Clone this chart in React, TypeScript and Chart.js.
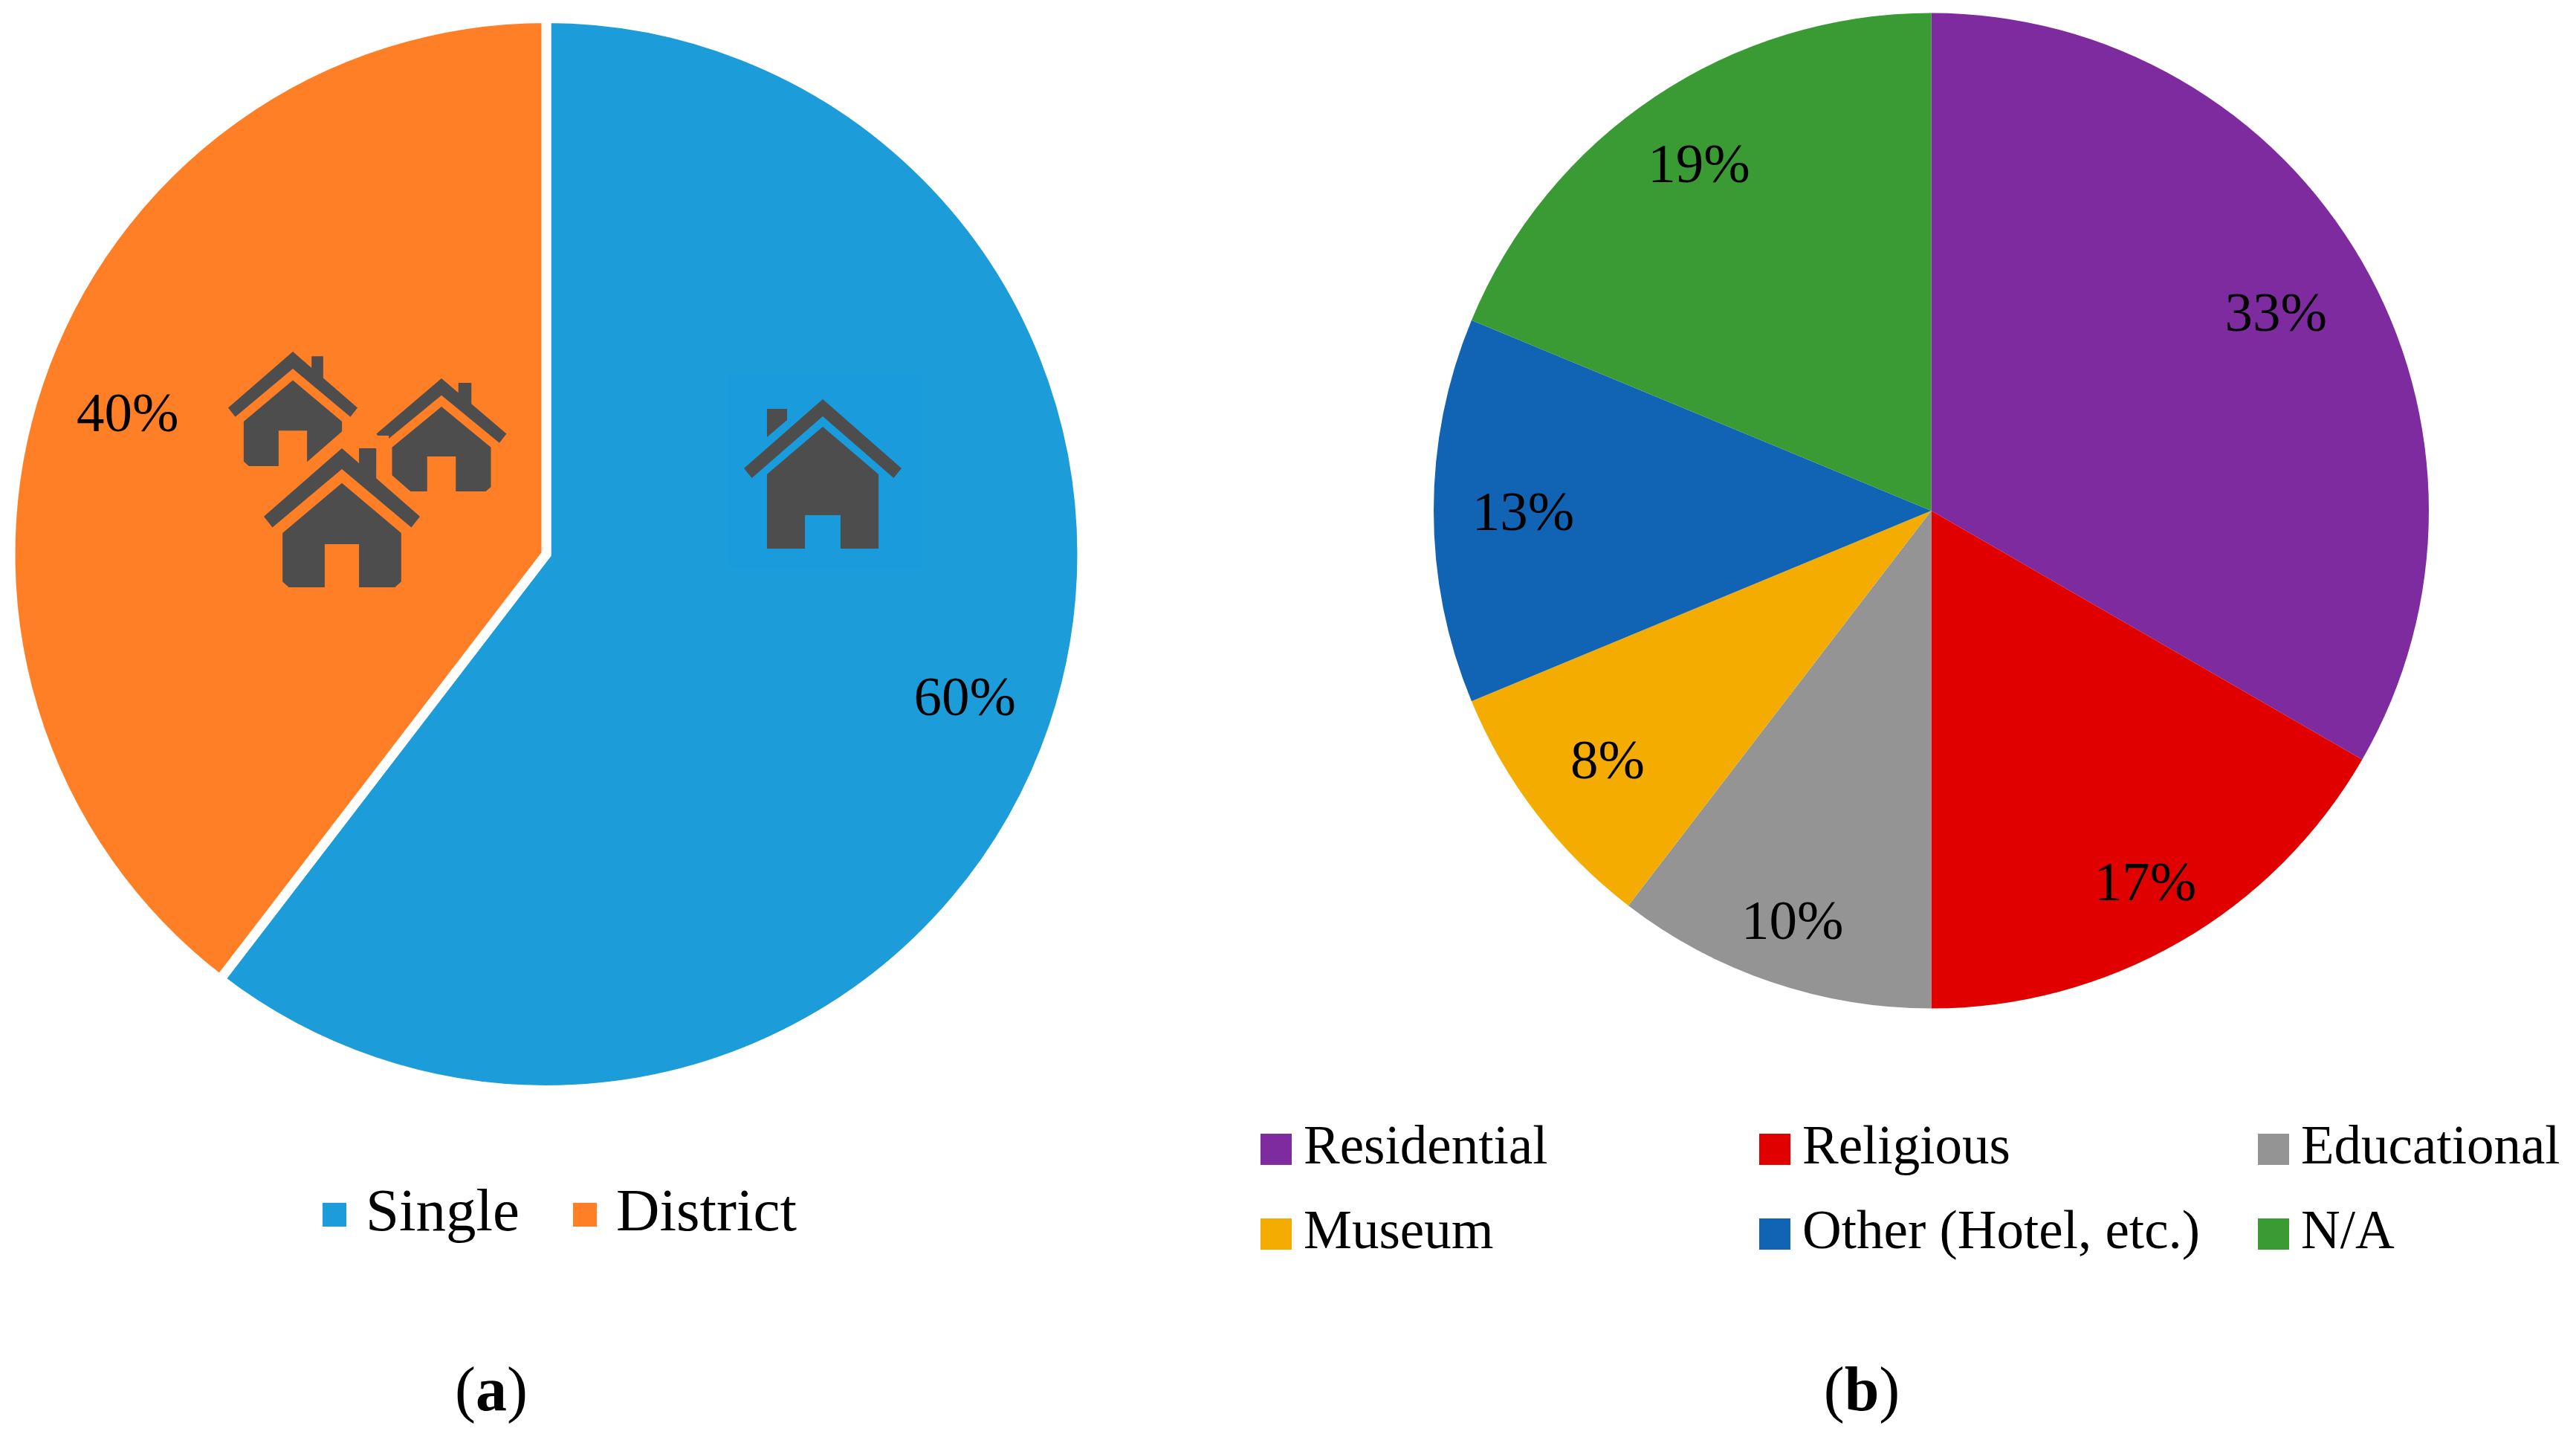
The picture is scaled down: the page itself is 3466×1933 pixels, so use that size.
import React, { useEffect, useRef } from "react";
import { Chart, registerables } from "chart.js";

Chart.register(...registerables);

const FONT = '"Liberation Serif", serif';

const typeCategories = ["Single", "District"];
const typeCounts = [29, 19];
const typeColors = ["#1D9CDA", "#FF7F27"];
const typeLabelRadii = [0.825, 0.825];

const useCategories = ["Residential", "Religious", "Educational", "Museum", "Other (Hotel, etc.)", "N/A"];
const useCounts = [16, 8, 5, 4, 6, 9];
const useColors = ["#7E2BA0", "#E00000", "#949494", "#F5AC00", "#1164B4", "#3A9B35"];
const useLabelRadii = [0.8, 0.86, 0.868, 0.82, 0.82, 0.84];

type Pt = [number, number];
const singleRoof: Pt[] = [[0, 0], [1, 0.463], [0.9, 0.527], [0, 0.114], [-0.9, 0.527], [-1, 0.463]];
const singleBody: Pt[] = [[0, 0.184], [0.708, 0.502], [0.708, 1], [0.226, 1], [0.226, 0.776], [-0.226, 0.776], [-0.226, 1], [-0.708, 1], [-0.708, 0.502]];
const singleChimney: Pt[] = [[-0.708, 0.065], [-0.453, 0.065], [-0.453, 0.139], [-0.708, 0.254]];
const groupRoof: Pt[] = [[0, 0], [1, 0.49], [0.89, 0.57], [0, 0.15], [-0.89, 0.57], [-1, 0.49]];
const groupBody: Pt[] = [[0, 0.25], [0.76, 0.61], [0.76, 0.96], [0.68, 1], [0.22, 1], [0.22, 0.69], [-0.22, 0.69], [-0.22, 1], [-0.68, 1], [-0.76, 0.96], [-0.76, 0.61]];

function poly(ctx: CanvasRenderingContext2D, pts: Pt[], cx: number, top: number, hw: number, h: number) {
  ctx.beginPath();
  pts.forEach(([u, v], i) => {
    const x = cx + u * hw;
    const y = top + v * h;
    if (i === 0) ctx.moveTo(x, y);
    else ctx.lineTo(x, y);
  });
  ctx.closePath();
}

const HOUSE = "#4D4D4D";

function groupHouse(ctx: CanvasRenderingContext2D, cx: number, top: number, hw: number, h: number, cl: number, cr: number, ct: number, halo?: string) {
  const chimney: Pt[] = [[cl, ct], [cr, ct], [cr, 0.49 * cr + 0.07], [cl, 0.49 * cl + 0.07]];
  const parts = [chimney, groupRoof, groupBody];
  if (halo) {
    ctx.strokeStyle = halo;
    ctx.lineWidth = 34;
    ctx.lineJoin = "miter";
    for (const p of parts) {
      poly(ctx, p, cx, top, hw, h);
      ctx.stroke();
      ctx.fillStyle = halo;
      ctx.fill();
    }
  }
  ctx.fillStyle = HOUSE;
  for (const p of parts) {
    poly(ctx, p, cx, top, hw, h);
    ctx.fill();
  }
}

function drawHousesA(ctx: CanvasRenderingContext2D) {
  ctx.save();
  // faint square behind the single-house icon
  ctx.fillStyle = "#1A9BDC";
  ctx.fillRect(979, 502, 262, 263);
  ctx.fillStyle = HOUSE;
  for (const p of [singleChimney, singleRoof, singleBody]) {
    poly(ctx, p, 1107, 537, 106, 201);
    ctx.fill();
  }
  groupHouse(ctx, 394, 473, 87, 154, 0.29, 0.47, 0.04);
  groupHouse(ctx, 594, 509, 87.5, 152, 0.26, 0.46, 0.04);
  groupHouse(ctx, 460, 603, 105, 187, 0.22, 0.44, 0, "#FF7F27");
  ctx.restore();
}

type LegendCfg = { ox: number; box: number; textDx: number; font: number; cols: number[]; rows: number[]; baselines: number[]; boxTops: number[] };
type PanelCfg = {
  radii: number[];
  legend: LegendCfg;
  labels: string[];
  colors: string[];
  tag: string;
  tagX: number;
  tagBase: number;
  labelFont: number;
  extra?: (ctx: CanvasRenderingContext2D) => void;
};

function panelPlugin(cfg: PanelCfg) {
  return {
    id: "panelDecor",
    afterDatasetsDraw(chart: any) {
      const ctx: CanvasRenderingContext2D = chart.ctx;
      if (cfg.extra) cfg.extra(ctx);
      const data: number[] = chart.data.datasets[0].data;
      const total = data.reduce((a, b) => a + b, 0);
      const meta = chart.getDatasetMeta(0);
      ctx.save();
      ctx.fillStyle = "#000";
      ctx.font = `${cfg.labelFont}px ${FONT}`;
      ctx.textAlign = "center";
      ctx.textBaseline = "middle";
      meta.data.forEach((arc: any, i: number) => {
        const { x, y, startAngle, endAngle, outerRadius } = arc.getProps(["x", "y", "startAngle", "endAngle", "outerRadius"], true);
        const mid = (startAngle + endAngle) / 2;
        const r = outerRadius * cfg.radii[i];
        ctx.fillText(`${Math.round((data[i] / total) * 100)}%`, x + Math.cos(mid) * r, y + Math.sin(mid) * r + 6);
      });
      const L = cfg.legend;
      ctx.textAlign = "left";
      ctx.textBaseline = "alphabetic";
      ctx.font = `${L.font}px ${FONT}`;
      cfg.labels.forEach((label, i) => {
        const col = L.cols[i];
        const row = L.rows[i];
        ctx.fillStyle = cfg.colors[i];
        ctx.fillRect(col - L.ox, L.boxTops[row], L.box, L.box);
        ctx.fillStyle = "#000";
        ctx.fillText(label, col - L.ox + L.textDx, L.baselines[row]);
      });
      // caption: (a) / (b) with a bold letter
      const reg = `84px ${FONT}`;
      const bold = `bold 84px ${FONT}`;
      ctx.font = reg;
      const pw = ctx.measureText("(").width;
      const pc = ctx.measureText(")").width;
      ctx.font = bold;
      const bw = ctx.measureText(cfg.tag).width;
      let tx = cfg.tagX - L.ox - (pw + bw + pc) / 2;
      ctx.font = reg;
      ctx.fillText("(", tx, cfg.tagBase);
      tx += pw;
      ctx.font = bold;
      ctx.fillText(cfg.tag, tx, cfg.tagBase);
      tx += bw;
      ctx.font = reg;
      ctx.fillText(")", tx, cfg.tagBase);
      ctx.restore();
    },
  };
}

function makePie(canvas: HTMLCanvasElement, labels: string[], data: number[], colors: string[], radius: number, border: number, padding: any, cfg: PanelCfg) {
  return new Chart(canvas, {
    type: "pie",
    data: {
      labels,
      datasets: [{ data, backgroundColor: colors, borderColor: "#FFFFFF", borderWidth: border, borderJoinStyle: "miter" as any }],
    },
    options: {
      responsive: false,
      animation: false,
      devicePixelRatio: 1,
      radius,
      events: [],
      layout: { padding },
      plugins: { legend: { display: false }, tooltip: { enabled: false } },
    } as any,
    plugins: [panelPlugin(cfg)],
  });
}

const RIGHT_X = 1650;
const RIGHT_W = 3466 - RIGHT_X;

export default function App() {
  const aRef = useRef<HTMLCanvasElement>(null);
  const bRef = useRef<HTMLCanvasElement>(null);
  useEffect(() => {
    document.body.style.margin = "0";
    document.body.style.background = "#fff";
    const a = makePie(aRef.current!, typeCategories, typeCounts, typeColors, 721, 13, { left: 0, right: RIGHT_X - 1470, top: 0, bottom: 1933 - 1491 }, {
      radii: typeLabelRadii,
      labels: typeCategories,
      colors: typeColors,
      tag: "a",
      tagX: 661,
      tagBase: 1897,
      labelFont: 75,
      extra: drawHousesA,
      legend: { ox: 0, box: 32, textDx: 58, font: 81, cols: [434, 771], rows: [0, 0], baselines: [1655], boxTops: [1618] },
    });
    const b = makePie(bRef.current!, useCategories, useCounts, useColors, 669.5, 0, { left: 248.5, right: RIGHT_W - 948.5 - 700, top: 0, bottom: 1933 - 1374 }, {
      radii: useLabelRadii,
      labels: useCategories,
      colors: useColors,
      tag: "b",
      tagX: 2505,
      tagBase: 1897,
      labelFont: 75,
      legend: { ox: RIGHT_X, box: 42, textDx: 58, font: 73, cols: [1696, 2367, 3038, 1696, 2367, 3038], rows: [0, 0, 0, 1, 1, 1], baselines: [1565, 1679], boxTops: [1525, 1639] },
    });
    return () => {
      a.destroy();
      b.destroy();
    };
  }, []);
  return (
    <div style={{ position: "absolute", left: 0, top: 0, width: 3466, height: 1933, background: "#fff", overflow: "hidden" }}>
      <canvas ref={aRef} width={RIGHT_X} height={1933} style={{ position: "absolute", left: 0, top: 0 }} />
      <canvas ref={bRef} width={RIGHT_W} height={1933} style={{ position: "absolute", left: RIGHT_X, top: 0 }} />
    </div>
  );
}
